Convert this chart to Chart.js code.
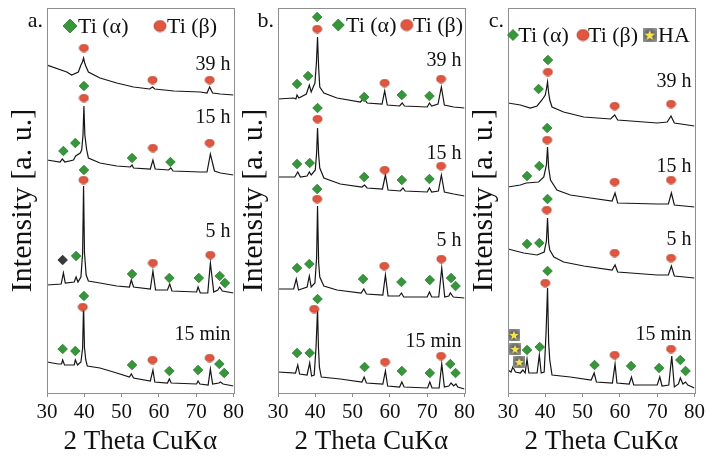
<!DOCTYPE html>
<html><head><meta charset="utf-8">
<script src="https://cdn.jsdelivr.net/npm/chart.js@4.4.1/dist/chart.umd.min.js"></script>
<style>
html,body{margin:0;padding:0;background:#fff;overflow:hidden;width:706px;height:462px;}
#wrap{position:relative;width:706px;height:462px;overflow:hidden;background:#fff;}
canvas{position:absolute;top:0;}
</style></head><body>
<div id="wrap">
<canvas id="pa" width="247" height="462" style="left:0px;width:247px;height:462px"></canvas>
<canvas id="pb" width="247" height="462" style="left:231px;width:247px;height:462px"></canvas>
<canvas id="pc" width="247" height="462" style="left:461px;width:247px;height:462px"></canvas>
</div>
<script>
// ---------- data (2θ in degrees, intensity in arbitrary units) ----------
const xTicks = [30, 40, 50, 60, 70, 80];
const samples = ['39 h', '15 h', '5 h', '15 min'];
const legendNames = ['Ti (α)', 'Ti (β)', 'HA'];
const panelLetters = ['a.', 'b.', 'c.'];
const xTitle = '2 Theta CuKα';
const yTitle = 'Intensity [a. u.]';

// panel a
const a_39h = [[30,328],[35.3,321],[36.6,318],[38.4,321],[39.1,328],[39.5,331],[39.8,335],[40.1,330],[40.4,327],[41.1,321],[44.2,315],[48.7,310],[53.2,306],[57.5,304],[58.3,306],[58.9,304],[64.0,302],[71.1,301],[72.9,300],[73.6,306],[74.4,300],[76.5,299],[80,298]];
const a_15h = [[30,233],[33.5,231],[34.1,234],[34.8,231],[37.1,233],[37.7,237],[38.9,240],[39.3,243],[39.65,258],[39.9,287],[40.15,258],[40.6,244],[41.1,235],[44.2,230],[48.7,227],[52.3,226],[52.8,228],[53.2,225],[57.7,224],[58.4,233],[59.0,224],[62.6,223],[63.2,225],[63.8,222],[71.1,221],[72.9,221],[73.8,239],[74.9,222],[76.5,220],[80,218]];
const a_5h = [[30,108],[33.8,109],[34.4,120],[34.9,110],[37.3,111],[37.8,116],[38.3,111],[39.1,116],[39.55,140],[39.8,207],[40.05,140],[40.5,118],[41.1,112],[44.2,110],[48.7,107],[52.1,106],[52.6,113],[53.2,106],[57.7,104],[58.4,122],[59.1,103],[62.3,103],[62.9,109],[63.5,102],[70.1,101],[70.5,106],[71.1,100],[73.1,100],[73.8,130],[74.7,101],[75.8,103],[76.3,106],[77.0,102],[80,100]];
const a_15m = [[30,31],[33.0,29],[33.9,29],[34.2,33],[34.7,28],[37.3,28],[37.6,33],[38.2,28],[39.1,31],[39.55,45],[39.8,88],[40.05,45],[40.4,33],[40.8,27],[44.2,25],[48.7,20],[52.1,16],[52.6,19],[53.2,15],[57.7,12],[58.4,23],[58.9,11],[62.3,10],[62.8,14],[63.3,10],[70.1,9],[70.5,12],[71.0,9],[73.2,8],[73.8,24],[74.4,9],[76.1,10],[76.5,11],[77.2,9],[80,7]];
const a_alpha = [[34.4,242],[37.6,250],[39.9,307],[52.8,235],[63.1,231],[39.9,223],[37.8,137],[52.8,119],[62.8,115],[70.7,115],[76.3,117],[77.7,110],[39.9,97],[34.2,44],[37.6,42],[52.8,28],[62.8,22],[70.5,23],[76.2,29],[77.5,20]];
const a_beta = [[39.9,345],[58.3,313],[73.6,313],[39.9,295],[58.4,245],[73.6,250],[39.8,213],[58.4,130],[73.8,138],[39.6,86],[58.3,33],[73.6,35]];
const a_other = [[34.2,133]];
const a_labelY = [328, 275.5, 161.5, 58.5];

// panel b
const b_39h = [[30,294],[34.2,295],[34.8,294],[35.1,298],[35.6,295],[37.6,299],[38.4,308],[38.9,301],[39.9,310],[40.3,330],[40.6,356],[40.9,325],[41.2,306],[42.3,300],[45.8,295],[52.1,291],[53.0,295],[53.9,290],[57.9,289],[58.6,302],[59.3,288],[62.6,287],[63.3,290],[63.9,287],[70.0,286],[70.6,290],[71.2,287],[72.9,289],[73.8,306],[74.6,288],[77.1,286],[80,285]];
const b_15h = [[30,216],[34.5,216],[35.3,221],[36.0,216],[37.8,217],[38.4,221],[38.9,218],[40.0,223],[40.35,240],[40.6,265],[40.9,238],[41.2,225],[42.3,215],[46.7,209],[52.5,206],[53.2,208],[53.9,205],[58.0,204],[58.8,218],[59.5,203],[62.8,202],[63.5,205],[64.1,202],[70.0,201],[70.6,205],[71.2,201],[73.0,202],[73.8,218],[74.6,201],[77.1,199],[80,197]];
const b_5h = [[30,104],[34.2,104],[34.9,114],[35.5,103],[37.8,106],[38.4,117],[38.9,106],[39.9,110],[40.35,135],[40.6,187],[40.9,130],[41.2,116],[42.3,107],[45.8,103],[52.3,100],[53.0,104],[53.7,99],[58.1,98],[58.8,118],[59.5,97],[62.5,97],[63.1,100],[63.7,96],[70.0,96],[70.6,101],[71.2,96],[73.1,96],[73.9,125],[74.7,96],[75.8,97],[76.2,100],[77.0,96],[80,95]];
const b_15m = [[30,21],[34.7,20],[35.3,28],[35.8,19],[37.8,18],[38.5,30],[39.0,17],[39.7,18],[40.2,46],[40.6,84],[40.85,45],[41.1,26],[41.6,16],[46.7,14],[52.5,11],[53.1,16],[53.7,10],[58.1,9],[58.8,22],[59.4,7],[62.6,6],[63.2,11],[63.8,6],[70.1,5],[70.7,11],[71.3,5],[73.2,5],[73.9,29],[74.6,6],[75.8,7],[76.4,10],[77.1,7],[77.7,9],[78.2,6],[80,4]];
const b_alpha = [[40.5,376],[35.1,309],[38.05,317],[53.1,296],[63.2,298],[70.6,297],[40.6,285],[35.1,229],[38.5,230],[53.1,216],[63.2,213],[70.6,214],[40.5,204],[35.1,125],[38.4,129],[52.8,114],[63.1,111],[70.7,113],[76.4,115],[77.6,107],[40.6,94],[35.1,40],[38.5,40],[53.2,26],[63.2,22],[70.7,20],[76.2,29],[77.6,20]];
const b_beta = [[40.5,364],[58.6,310],[73.7,314],[40.6,274],[58.6,223],[73.7,227],[40.5,194],[58.5,127],[73.8,134],[39.7,84],[58.7,31],[73.7,37]];
const b_labelY = [332, 239, 152.5, 51.5];

// panel c
const c_39h = [[30,290],[33.3,288],[36.0,285],[37.8,287],[39.1,293],[40.0,298],[40.35,305],[40.6,311],[40.9,300],[41.2,293],[41.8,286],[44.9,281],[50.3,276],[57.5,274],[58.6,278],[59.4,273],[70.0,270],[72.7,271],[73.7,277],[74.6,270],[80,267]];
const c_15h = [[30,206],[33.3,208],[34.9,210],[38.2,211],[39.6,216],[40.3,228],[40.6,246],[40.9,225],[41.4,213],[43.1,203],[46.7,198],[52.1,195],[57.9,192],[58.7,200],[59.4,190],[70.0,189],[73.0,189],[73.8,200],[74.6,188],[80,186]];
const c_5h = [[30,144],[34.2,140],[37.8,138],[39.7,141],[40.3,152],[40.6,175],[40.9,150],[41.2,143],[42.3,136],[44.9,131],[50.3,127],[57.9,123],[58.7,128],[59.4,121],[70.0,118],[73.0,118],[73.8,127],[74.6,117],[80,115]];
const c_15m = [[30,23],[30.8,21],[31.3,26],[32.0,21],[33.3,20],[34.0,23],[34.6,20],[35.1,34],[35.6,20],[37.8,20],[38.4,38],[38.9,20],[39.7,21],[40.2,60],[40.6,105],[40.9,50],[41.2,33],[41.8,18],[46.7,16],[52.3,13],[53.1,20],[53.7,11],[58.0,10],[58.7,29],[59.2,10],[62.5,9],[63.1,16],[63.7,8],[70.0,8],[70.7,16],[71.3,7],[73.1,8],[73.9,37],[74.6,6],[75.7,9],[76.2,15],[76.9,9],[77.6,11],[78.2,8],[80,5]];
const c_alpha = [[40.7,333],[38.2,304],[40.5,265],[38.4,227],[35.1,217],[40.6,194],[35.1,149],[38.4,150],[40.6,122],[35.1,43],[38.5,46],[53.2,28],[63.0,27],[70.5,25],[76.2,33],[77.6,22]];
const c_beta = [[40.7,321],[58.6,287],[73.7,289],[40.5,253],[58.6,211],[73.7,213],[40.4,183],[58.6,140],[73.7,135],[40.0,110],[58.6,38],[73.7,44]];
const c_HA = [[31.6,58],[31.9,44],[33.0,31]];
const c_labelY = [311.5, 226.5, 153, 58.5];

// ---------- styling ----------
const FONT = "'Liberation Serif', 'Times New Roman', serif";
const GREEN = '#36963a', GREEN_EDGE = '#2a7a2e';
const RED = '#e2563f', RED_EDGE = '#a93724';
const DARK = '#3a3a3a';
const FRAME = '#8e8e8e';

function ellipseImg(w, h) {
  const c = document.createElement('canvas');
  c.width = w + 2; c.height = h + 2;
  const g = c.getContext('2d');
  g.beginPath(); g.ellipse(c.width / 2, c.height / 2, w / 2, h / 2, 0, 0, Math.PI * 2);
  g.fillStyle = RED; g.fill(); g.lineWidth = 0.8; g.strokeStyle = RED_EDGE; g.stroke();
  return c;
}
function haImg(s) {
  const c = document.createElement('canvas');
  c.width = s; c.height = s;
  const g = c.getContext('2d');
  const gr = g.createRadialGradient(s / 2, s / 2, 1, s / 2, s / 2, s * 0.75);
  gr.addColorStop(0, '#4f4f4f'); gr.addColorStop(1, '#a5a5a5');
  g.fillStyle = gr; g.fillRect(0, 0, s, s);
  g.beginPath();
  for (let i = 0; i < 10; i++) {
    const r = i % 2 ? s * 0.17 : s * 0.4;
    const a = -Math.PI / 2 + i * Math.PI / 5;
    const px = s / 2 + r * Math.cos(a), py = s / 2 + 0.5 + r * Math.sin(a);
    i ? g.lineTo(px, py) : g.moveTo(px, py);
  }
  g.closePath(); g.fillStyle = '#f4e64a'; g.fill();
  return c;
}
const ellSmall = ellipseImg(9, 7.5);
const ellBig = ellipseImg(12, 11);
const haSmall = haImg(12);
const haBig = haImg(14);

function drawDiamond(ctx, x, y, r, fill, edge) {
  ctx.beginPath();
  ctx.moveTo(x - r, y); ctx.lineTo(x, y - r); ctx.lineTo(x + r, y); ctx.lineTo(x, y + r);
  ctx.closePath(); ctx.fillStyle = fill; ctx.fill();
  ctx.lineWidth = 0.8; ctx.strokeStyle = edge; ctx.stroke();
}

const panels = {
  pa: { letter: panelLetters[0], labelY: a_labelY, legendMarkY: 26, legendBase: 33,
        legend: [{k: 'alpha', mx: 23, tx: 31, r: 7}, {k: 'beta', mx: 113, tx: 120}] },
  pb: { letter: panelLetters[1], labelY: b_labelY, legendMarkY: 25, legendBase: 32,
        legend: [{k: 'alpha', mx: 60.3, tx: 68, r: 6}, {k: 'beta', mx: 128.7, tx: 135}] },
  pc: { letter: panelLetters[2], labelY: c_labelY, legendMarkY: 35, legendBase: 42,
        legend: [{k: 'alpha', mx: 5, tx: 10.3, r: 5.5}, {k: 'beta', mx: 75, tx: 80}, {k: 'ha', mx: 141.7, tx: 150}] }
};

const decor = {
  id: 'decor',
  afterDraw(chart) {
    const p = panels[chart.canvas.id];
    const {ctx, chartArea: ca, scales: {y}} = chart;
    ctx.save();
    // frame
    ctx.strokeStyle = FRAME; ctx.lineWidth = 1;
    const l = Math.round(ca.left) + 0.5, t = Math.round(ca.top) + 0.5;
    ctx.strokeRect(l, t, Math.round(ca.right) - Math.round(ca.left), Math.round(ca.bottom) - Math.round(ca.top));
    // panel letter
    ctx.fillStyle = '#111';
    ctx.font = '22px ' + FONT;
    ctx.textAlign = 'right'; ctx.textBaseline = 'alphabetic';
    ctx.fillText(p.letter, ca.left - 4, 27);
    // sample labels
    ctx.font = '20px ' + FONT;
    ctx.textBaseline = 'middle';
    samples.forEach((s, i) => ctx.fillText(s, ca.right - 3, y.getPixelForValue(p.labelY[i])));
    // legend
    ctx.textAlign = 'left'; ctx.textBaseline = 'alphabetic';
    ctx.font = '22px ' + FONT;
    p.legend.forEach(it => {
      const mx = ca.left + it.mx, my = p.legendMarkY;
      if (it.k === 'alpha') {
        drawDiamond(ctx, mx, my, it.r, GREEN, GREEN_EDGE);
        ctx.fillStyle = '#111'; ctx.fillText(legendNames[0], ca.left + it.tx, p.legendBase);
      } else if (it.k === 'beta') {
        ctx.drawImage(ellBig, mx - ellBig.width / 2, my - ellBig.height / 2);
        ctx.fillStyle = '#111'; ctx.fillText(legendNames[1], ca.left + it.tx, p.legendBase);
      } else {
        ctx.drawImage(haBig, mx - haBig.width / 2, my - haBig.height / 2);
        ctx.fillStyle = '#111'; ctx.fillText(legendNames[2], ca.left + it.tx, p.legendBase);
      }
    });
    ctx.restore();
  }
};

function toXY(arr) { return arr.map(p => ({x: p[0], y: p[1]})); }
function lineDs(arr, name) {
  return {label: name, data: toXY(arr), borderColor: '#151515', borderWidth: 1.2, pointRadius: 0,
          tension: 0, fill: false, order: 10};
}
function markDs(arr, style, fill, edge, r, name) {
  return {label: name, data: toXY(arr), showLine: false, pointStyle: style, pointRadius: r,
          pointBackgroundColor: fill, pointBorderColor: edge, pointBorderWidth: 0.8, order: 1};
}

function scales() {
  return {
    x: {
      type: 'linear', min: 30, max: 80,
      afterBuildTicks: s => { s.ticks = xTicks.map(v => ({value: v})); },
      ticks: {font: {family: FONT, size: 21}, color: '#111', padding: 3, maxRotation: 0, autoSkip: false,
              callback: v => String(v)},
      grid: {display: true, drawOnChartArea: false, drawTicks: true, tickLength: 4, color: FRAME, lineWidth: 1},
      border: {display: false},
      title: {display: true, text: xTitle, color: '#111', font: {family: FONT, size: 27, lineHeight: 1},
              padding: {top: 0, bottom: 6.5}},
      afterFit: s => { s.height = 69; }
    },
    y: {
      type: 'linear', min: 0, max: 385,
      ticks: {display: false},
      grid: {display: false, drawTicks: false},
      border: {display: false},
      title: {display: true, text: yTitle, color: '#111', font: {family: FONT, size: 30, lineHeight: 1},
              padding: {top: 0.5, bottom: 0}},
      afterFit: s => { s.width = 39; }
    }
  };
}

function makeChart(id, lines, marks) {
  new Chart(document.getElementById(id), {
    type: 'line',
    data: {datasets: marks.concat(lines)},
    options: {
      responsive: false, animation: false, devicePixelRatio: 1, events: [],
      layout: {padding: {left: 8, top: 8, right: 0, bottom: 0}},
      plugins: {legend: {display: false}, tooltip: {enabled: false}},
      scales: scales()
    },
    plugins: [decor]
  });
}

makeChart('pa',
  [lineDs(a_39h, samples[0]), lineDs(a_15h, samples[1]), lineDs(a_5h, samples[2]), lineDs(a_15m, samples[3])],
  [markDs(a_alpha, 'rectRot', GREEN, GREEN_EDGE, 4.8, legendNames[0]),
   markDs(a_beta, ellSmall, RED, RED_EDGE, 4.5, legendNames[1]),
   markDs(a_other, 'rectRot', DARK, '#222', 4.8, 'other')]);
makeChart('pb',
  [lineDs(b_39h, samples[0]), lineDs(b_15h, samples[1]), lineDs(b_5h, samples[2]), lineDs(b_15m, samples[3])],
  [markDs(b_alpha, 'rectRot', GREEN, GREEN_EDGE, 4.8, legendNames[0]),
   markDs(b_beta, ellSmall, RED, RED_EDGE, 4.5, legendNames[1])]);
makeChart('pc',
  [lineDs(c_39h, samples[0]), lineDs(c_15h, samples[1]), lineDs(c_5h, samples[2]), lineDs(c_15m, samples[3])],
  [markDs(c_alpha, 'rectRot', GREEN, GREEN_EDGE, 4.8, legendNames[0]),
   markDs(c_beta, ellSmall, RED, RED_EDGE, 4.5, legendNames[1]),
   markDs(c_HA, haSmall, '#888', '#888', 6, legendNames[2])]);
</script>
</body></html>
